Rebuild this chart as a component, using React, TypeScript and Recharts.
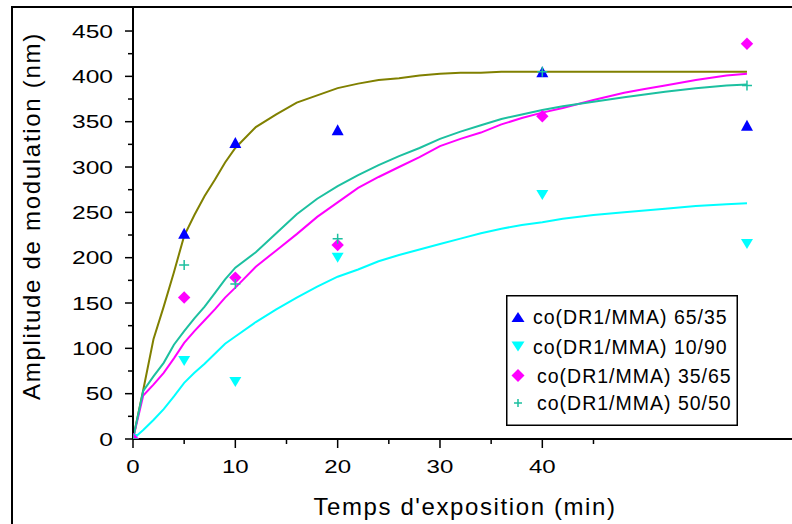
import React from 'react';
import { ComposedChart, Line, Scatter, XAxis, YAxis, Legend, Label } from 'recharts';

// ---------- data ----------
const seriesNames = [
  'co(DR1/MMA) 65/35',
  'co(DR1/MMA) 10/90',
  'co(DR1/MMA) 35/65',
  'co(DR1/MMA) 50/50',
];
const measureTimes = [0, 5, 10, 20, 40, 60];
const amp6535 = [0, 227, 327, 341, 405, 346];
const amp1090 = [0, 86, 63, 200, 269, 215];
const amp3565 = [0, 156, 178, 214, 356, 436];
const amp5050 = [0, 192, 171, 221, 405, 390];

const fitTimes = [0, 1, 2, 3, 4, 5, 6, 7, 8, 9, 10, 12, 14, 16, 18, 20, 22, 24, 26, 28, 30, 32, 34, 36, 38, 40, 42, 45, 48, 50, 52, 55, 58, 60];
const fit6535 = [0, 54, 110, 146, 184, 224, 247, 268, 286, 305, 321, 344, 358, 371, 379, 387, 392, 396, 398, 401, 403, 404, 404, 405, 405, 405, 405, 405, 405, 405, 405, 405, 405, 405];
const fit1090 = [0, 10, 21, 33, 47, 62, 73, 83, 94, 105, 113, 129, 143, 156, 168, 179, 187, 196, 203, 209, 215, 221, 227, 232, 236, 239, 243, 247, 250, 252, 254, 257, 259, 260];
const fit3565 = [0, 48, 60, 73, 89, 106, 119, 131, 143, 156, 167, 190, 208, 226, 245, 261, 277, 289, 300, 311, 323, 331, 338, 347, 354, 360, 365, 374, 382, 386, 390, 396, 401, 403];
const fit5050 = [0, 53, 69, 84, 104, 119, 133, 146, 161, 176, 189, 206, 227, 248, 265, 279, 291, 302, 312, 321, 331, 339, 346, 353, 358, 363, 367, 372, 377, 380, 383, 387, 390, 391];

const xTicks = [0, 5, 10, 15, 20, 25, 30, 35, 40, 45];
const yTicks = [0, 25, 50, 75, 100, 125, 150, 175, 200, 225, 250, 275, 300, 325, 350, 375, 400, 425, 450];

const xTitle = "Temps d'exposition (min)";
const yTitle = 'Amplitude de modulation (nm)';

// ---------- style ----------
const FONT = '"Liberation Sans", Arial, Helvetica, sans-serif';
const C_BLUE = '#0000ff';
const C_CYAN = '#00ffff';
const C_MAGENTA = '#ff00ff';
const C_TEAL = '#1cc0a0';
const C_OLIVE = '#808000';

const toPts = (xs: number[], ys: number[]) => xs.map((x, i) => ({ x, y: ys[i] }));

const TriUp = (cx: number, cy: number, c: string, w = 12, h = 11) => (
  <path d={`M${cx},${cy - h / 2}L${cx + w / 2},${cy + h / 2}L${cx - w / 2},${cy + h / 2}Z`} fill={c} />
);
const TriDown = (cx: number, cy: number, c: string, w = 12, h = 10) => (
  <path d={`M${cx - w / 2},${cy - h / 2}L${cx + w / 2},${cy - h / 2}L${cx},${cy + h / 2}Z`} fill={c} />
);
const Diamond = (cx: number, cy: number, c: string, s = 6.2) => (
  <path d={`M${cx},${cy - s}L${cx + s},${cy}L${cx},${cy + s}L${cx - s},${cy}Z`} fill={c} />
);
const Plus = (cx: number, cy: number, c: string, s = 5) => (
  <path d={`M${cx - s},${cy}H${cx + s}M${cx},${cy - s}V${cy + s}`} stroke={c} strokeWidth={1.5} fill="none" />
);

const XTick = (props: any) => {
  const { x, y, payload } = props;
  const v = payload.value;
  const major = v % 10 === 0;
  return (
    <g>
      <line x1={x} x2={x} y1={y} y2={y + (major ? 9 : 5)} stroke="#000" strokeWidth={1.5} />
      {major && (
        <text transform={`translate(${x},${y + 34}) scale(1.3,1)`} textAnchor="middle" fontSize={18.5} fontFamily={FONT} fill="#000">
          {v}
        </text>
      )}
    </g>
  );
};

const YTick = (props: any) => {
  const { x, y, payload } = props;
  const v = payload.value;
  const major = v % 50 === 0;
  return (
    <g>
      <line x1={x - (major ? 8 : 5)} x2={x} y1={y} y2={y} stroke="#000" strokeWidth={1.5} />
      {major && (
        <text transform={`translate(${x - 20},${y + 6.7}) scale(1.33,1)`} textAnchor="end" fontSize={18.5} fontFamily={FONT} fill="#000">
          {v}
        </text>
      )}
    </g>
  );
};

const legendRows = [22, 51.5, 80.5, 108];
const legendTextX = [27, 27, 31, 31];

const LegendBox = () => (
  <svg width={232} height={131} style={{ display: 'block' }}>
    <rect x={0.75} y={0.75} width={230.5} height={129.5} fill="#fff" stroke="#000" strokeWidth={1.5} />
    {seriesNames.map((name, i) => {
      const cy = legendRows[i];
      const cx = 12;
      const marker =
        i === 0 ? TriUp(cx, cy, C_BLUE, 13, 10) : i === 1 ? TriDown(cx, cy, C_CYAN, 13, 10) : i === 2 ? Diamond(cx, cy, C_MAGENTA, 6.5) : Plus(cx, cy, C_TEAL, 4);
      return (
        <g key={name}>
          {marker}
          <text x={legendTextX[i]} y={cy + 7} fontSize={19.5} fontFamily={FONT} letterSpacing={1} fill="#000">
            {name}
          </text>
        </g>
      );
    })}
  </svg>
);

export default function App() {
  return (
    <div style={{ position: 'absolute', left: 0, top: 0, width: 792, height: 524, background: '#fff', overflow: 'hidden' }}>
      <div style={{ position: 'absolute', left: 11, top: 6, width: 781, height: 518, borderLeft: '2px solid #000', borderTop: '2px solid #000', boxSizing: 'border-box' }} />
      <div style={{ position: 'absolute', left: 0, top: 0 }}>
        <ComposedChart width={792} height={524} margin={{ top: 7, right: 0, bottom: 0, left: 0 }}>
          <XAxis
            type="number"
            dataKey="x"
            domain={[0, 64.4]}
            ticks={xTicks}
            interval={0}
            height={85}
            tickSize={0}
            tickMargin={0}
            tickLine={false}
            tick={<XTick />}
            axisLine={{ stroke: '#000', strokeWidth: 2 }}
            allowDataOverflow
          >
            <Label
              content={() => (
                <text x={465} y={515} textAnchor="middle" fontSize={24} fontFamily={FONT} letterSpacing={1.6} fill="#000">
                  {xTitle}
                </text>
              )}
            />
          </XAxis>
          <YAxis
            type="number"
            dataKey="y"
            domain={[0, 476.5]}
            ticks={yTicks}
            interval={0}
            width={133}
            tickSize={0}
            tickMargin={0}
            tickLine={false}
            tick={<YTick />}
            axisLine={{ stroke: '#000', strokeWidth: 2 }}
            allowDataOverflow
          >
            <Label
              content={() => (
                <text transform="translate(39.5,216) rotate(-90)" textAnchor="middle" fontSize={24} fontFamily={FONT} letterSpacing={1.7} fill="#000">
                  {yTitle}
                </text>
              )}
            />
          </YAxis>
          <Legend
            layout="vertical"
            align="center"
            verticalAlign="middle"
            wrapperStyle={{ left: 506, top: 295, width: 232, height: 131 }}
            content={() => <LegendBox />}
          />
          <Line data={toPts(fitTimes, fit6535)} dataKey="y" stroke={C_OLIVE} strokeWidth={2} dot={false} isAnimationActive={false} legendType="none" />
          <Line data={toPts(fitTimes, fit1090)} dataKey="y" stroke={C_CYAN} strokeWidth={2} dot={false} isAnimationActive={false} legendType="none" />
          <Line data={toPts(fitTimes, fit3565)} dataKey="y" stroke={C_MAGENTA} strokeWidth={2} dot={false} isAnimationActive={false} legendType="none" />
          <Line data={toPts(fitTimes, fit5050)} dataKey="y" stroke={C_TEAL} strokeWidth={2} dot={false} isAnimationActive={false} legendType="none" />
          <Scatter name={seriesNames[0]} data={toPts(measureTimes, amp6535)} dataKey="y" isAnimationActive={false} shape={(p: any) => TriUp(p.cx, p.cy, C_BLUE)} />
          <Scatter name={seriesNames[1]} data={toPts(measureTimes, amp1090)} dataKey="y" isAnimationActive={false} shape={(p: any) => TriDown(p.cx, p.cy, C_CYAN)} />
          <Scatter name={seriesNames[2]} data={toPts(measureTimes, amp3565)} dataKey="y" isAnimationActive={false} shape={(p: any) => Diamond(p.cx, p.cy, C_MAGENTA)} />
          <Scatter name={seriesNames[3]} data={toPts(measureTimes, amp5050)} dataKey="y" isAnimationActive={false} shape={(p: any) => Plus(p.cx, p.cy, C_TEAL)} />
        </ComposedChart>
      </div>
    </div>
  );
}
